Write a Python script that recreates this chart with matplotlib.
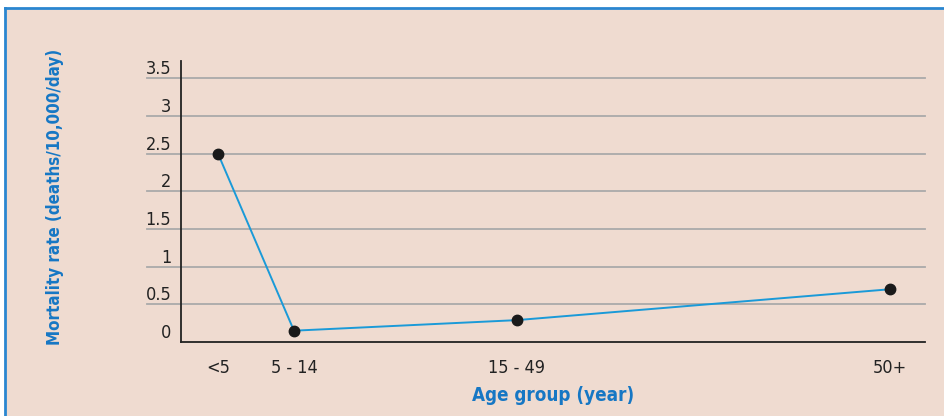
import matplotlib
matplotlib.use("Agg")
import matplotlib.pyplot as plt
from matplotlib.patches import Rectangle
from matplotlib.lines import Line2D

# data
age_groups = ["<5", "5 - 14", "15 - 49", "50+"]
age_pos = [2.5, 9.5, 30.0, 64.4]          # horizontal position of each group
mortality = [2.5, 0.15, 0.29, 0.70]       # deaths/10,000/day
y_ticks = [0, 0.5, 1, 1.5, 2, 2.5, 3, 3.5]
y_tick_labels = ["0", "0.5", "1", "1.5", "2", "2.5", "3", "3.5"]

BG = "#efdbd0"
BLUE = "#1677c4"
LINE = "#1a9ad8"

plt.rcParams["font.family"] = ["DejaVu Sans"]
plt.rcParams["font.stretch"] = "condensed"

W, H = 945, 416
fig = plt.figure(figsize=(W / 100, H / 100), dpi=100, facecolor="white")

# beige panel with blue top/left border
fig.patches.append(Rectangle((5 / W, 0), 1, (H - 8) / H, transform=fig.transFigure,
                             facecolor=BG, edgecolor="none", zorder=-5))
fig.lines.append(Line2D([5 / W, 1], [(H - 8) / H] * 2, transform=fig.transFigure,
                        color="#2a86d0", lw=2, zorder=-4))
fig.lines.append(Line2D([5 / W] * 2, [0, (H - 8) / H], transform=fig.transFigure,
                        color="#2a86d0", lw=2, zorder=-4))

ax = fig.add_axes([181 / W, 74 / H, 744 / W, 281 / H])
ax.set_facecolor("none")
ax.set_xlim(-0.9, 67.6)
ax.set_ylim(0, 3.727)

# grid lines run a bit past the y axis, under the labels
for y in y_ticks[1:]:
    ax.plot([-0.046, 1], [y, y], transform=ax.get_yaxis_transform(),
            color="#aaaaaa", lw=1.3, clip_on=False, zorder=1)

ax.plot(age_pos, mortality, color=LINE, lw=1.4, zorder=2)
ax.plot(age_pos, mortality, "o", color="#1a1a1a", ms=7.5, zorder=3)

for s in ["top", "right"]:
    ax.spines[s].set_visible(False)
for s in ["left", "bottom"]:
    ax.spines[s].set_color("#222222")
    ax.spines[s].set_linewidth(1.3)

ax.set_yticks(y_ticks)
ax.set_yticklabels(y_tick_labels, fontsize=13, color="#222222")
for lbl in ax.get_yticklabels():
    lbl.set_verticalalignment("bottom")
ax.tick_params(axis="y", length=0, pad=7)

ax.set_xticks(age_pos)
ax.set_xticklabels(age_groups, fontsize=13, color="#222222")
ax.tick_params(axis="x", length=0, pad=12)

ax.set_xlabel("Age group (year)", fontsize=13.5, fontweight="bold", color=BLUE, labelpad=7)
fig.text(55 / W, 1 - 197 / H, "Mortality rate (deaths/10,000/day)", rotation=90,
         ha="center", va="center", fontsize=12.2, fontweight="bold", color=BLUE)

fig.savefig("out.png", dpi=100, facecolor="white")
